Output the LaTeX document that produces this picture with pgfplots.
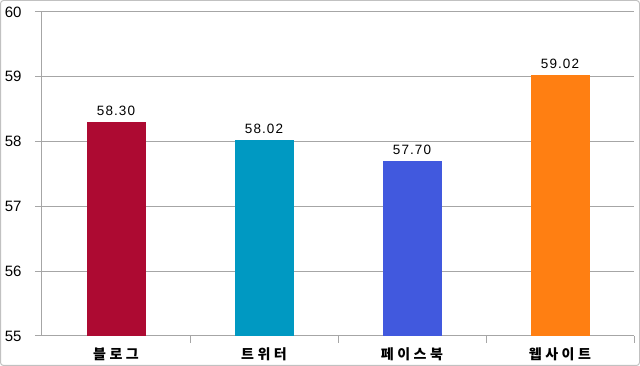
\documentclass[border=0pt]{standalone}
\usepackage{pgfplots}
\pgfplotsset{compat=1.18}
\usepackage{fontspec}
\setmainfont{Liberation Sans}
\newfontfamily\kr[LetterSpace=25]{Noto Sans CJK KR}
\newfontfamily\vl[LetterSpace=8]{Liberation Sans}
\definecolor{c1}{HTML}{AD0A32}
\definecolor{c2}{HTML}{0099C2}
\definecolor{c3}{HTML}{4159DE}
\definecolor{c4}{HTML}{FF7F12}
\definecolor{gridc}{HTML}{A6A6A6}
\begin{document}
\begin{tikzpicture}
\draw[gridc!70, line width=1pt, rounded corners=3pt] (0.5pt,0.5pt) rectangle (639.5pt,365.5pt);
\begin{axis}[
  at={(42pt,30pt)}, anchor=south west,
  scale only axis, width=592pt, height=324pt,
  xmin=-0.5, xmax=3.5, ymin=55, ymax=60,
  ytick={55,...,60},
  xtick={0,1,2,3},
  xticklabels={{\kr 블로그},{\kr 트위터},{\kr 페이스북},{\kr 웹사이트}},
  minor xtick={0.5,1.5,2.5,3.5},
  major x tick style={draw=none},
  tick align=outside,
  major tick length=7pt, minor tick length=7pt,
  axis x line*=bottom, axis y line*=left,
  axis line style={gridc, line width=1pt},
  tick style={gridc, line width=1pt},
  ymajorgrids, grid style={gridc, line width=1pt},
  every tick label/.append style={font=\fontsize{15}{15}\selectfont},
  yticklabel style={xshift=-10pt},
  xticklabel style={yshift=-1pt, font=\fontsize{14}{14}\selectfont\bfseries},
  /pgf/number format/assume math mode=true,
  ybar, bar width=59pt, bar shift=0pt,
  nodes near coords={\pgfmathprintnumber[fixed,fixed zerofill,precision=2]{\pgfplotspointmeta}},
  every node near coord/.append style={font=\fontsize{13.5}{13.5}\selectfont\vl, yshift=3pt},
  clip=false,
]
\addplot[fill=c1, draw=none] coordinates {(0,58.30)};
\addplot[fill=c2, draw=none] coordinates {(1,58.02)};
\addplot[fill=c3, draw=none] coordinates {(2,57.70)};
\addplot[fill=c4, draw=none] coordinates {(3,59.02)};
\end{axis}
\end{tikzpicture}
\end{document}
